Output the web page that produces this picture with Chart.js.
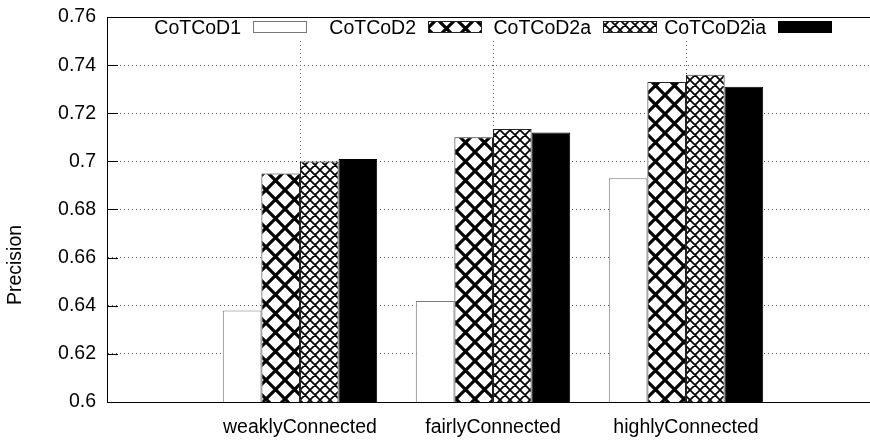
<!DOCTYPE html>
<html><head><meta charset="utf-8">
<script src="https://cdn.jsdelivr.net/npm/chart.js@4/dist/chart.umd.min.js"></script>
<style>html,body{margin:0;padding:0;background:#fff;overflow:hidden;width:870px;height:441px}canvas{display:block}</style>
</head><body>
<canvas id="c" width="880" height="441" style="width:880px;height:441px"></canvas>
<script>
// ---- data ----
const categories = ['weaklyConnected', 'fairlyConnected', 'highlyConnected'];
const seriesNames = ['CoTCoD1', 'CoTCoD2', 'CoTCoD2a', 'CoTCoD2ia'];
const cotcod1   = [0.638, 0.642, 0.693];
const cotcod2   = [0.695, 0.710, 0.733];
const cotcod2a  = [0.700, 0.7135, 0.736];
const cotcod2ia = [0.701, 0.712, 0.731];
const yTickValues = [0.6, 0.62, 0.64, 0.66, 0.68, 0.7, 0.72, 0.74, 0.76];
const yAxisTitle = 'Precision';

// ---- styling ----
const FONT = 'Liberation Sans, Arial, Helvetica, sans-serif';
const FS = 19.5;
const canvas = document.getElementById('c');
const ctx = canvas.getContext('2d');

function hatch(period, lw) {
  const t = document.createElement('canvas');
  t.width = t.height = period;
  const g = t.getContext('2d');
  g.fillStyle = '#fff';
  g.fillRect(0, 0, period, period);
  g.strokeStyle = '#000';
  g.lineWidth = lw;
  g.beginPath();
  for (let k = -1; k <= 1; k++) {
    g.moveTo(k * period, 0); g.lineTo(k * period + period, period);
    g.moveTo(k * period, period); g.lineTo(k * period + period, 0);
  }
  g.stroke();
  return ctx.createPattern(t, 'repeat');
}
const coarse = hatch(19, 3.2);
const fine = hatch(10, 1.7);

const pad = arr => [null, ...arr, null];
const seriesValues = [cotcod1, cotcod2, cotcod2a, cotcod2ia];
const fills = ['#ffffff', coarse, fine, '#000000'];
const borders = ['#777777', '#222222', '#222222', '#000000'];

const datasets = seriesNames.map((name, i) => ({
  label: name,
  data: pad(seriesValues[i]),
  backgroundColor: fills[i],
  borderColor: borders[i],
  borderWidth: 1,
  borderSkipped: 'bottom',
  categoryPercentage: 0.8,
  barPercentage: 1.0
}));

const framePlugin = {
  id: 'frame',
  afterDraw(chart) {
    const { ctx, chartArea: a, scales } = chart;
    ctx.save();
    // top border
    ctx.strokeStyle = '#000';
    ctx.lineWidth = 1;
    ctx.beginPath();
    const ty = Math.round(a.top) + 0.5;
    ctx.moveTo(a.left, ty); ctx.lineTo(a.right, ty);
    ctx.stroke();
    // inward y ticks
    scales.y.ticks.forEach(t => {
      const py = Math.round(scales.y.getPixelForValue(t.value)) + 0.5;
      ctx.beginPath();
      ctx.moveTo(a.left, py); ctx.lineTo(a.left + 11, py);
      ctx.stroke();
    });
    // legend (opaque band)
    ctx.fillStyle = '#fff';
    ctx.fillRect(a.left + 1, a.top + 1, a.right - a.left - 2, 22);
    ctx.font = FS + 'px ' + FONT;
    ctx.textAlign = 'right';
    ctx.textBaseline = 'alphabetic';
    chart.data.datasets.forEach((ds, i) => {
      const bx = a.left + 146 + 175 * i;
      const by = a.top + 4;
      ctx.fillStyle = '#000';
      ctx.fillText(ds.label, bx - 12, a.top + 17);
      ctx.fillStyle = ds.backgroundColor;
      ctx.fillRect(bx, by, 54, 12);
      ctx.strokeStyle = ds.borderColor;
      ctx.strokeRect(bx + 0.5, by + 0.5, 53, 11);
    });
    // y title
    ctx.save();
    ctx.translate(16, 265);
    ctx.rotate(-Math.PI / 2);
    ctx.textAlign = 'center';
    ctx.textBaseline = 'middle';
    ctx.fillStyle = '#000';
    ctx.fillText(yAxisTitle, 0, 0);
    ctx.restore();
    ctx.restore();
  }
};

new Chart(ctx, {
  type: 'bar',
  data: { labels: ['', ...categories, ''], datasets },
  options: {
    responsive: false,
    devicePixelRatio: 1,
    animation: false,
    layout: { padding: { top: 17, right: 1, left: 0, bottom: 0 } },
    plugins: { legend: { display: false }, tooltip: { enabled: false }, title: { display: false } },
    scales: {
      x: {
        type: 'category',
        offset: false,
        grid: { offset: false, color: '#555', lineWidth: 1, drawTicks: false },
        border: { display: true, color: '#000', width: 1, dash: [1, 3] },
        ticks: { color: '#000', font: { family: FONT, size: FS }, padding: 14, maxRotation: 0, autoSkip: false },
        afterFit: s => { s.height = 39; s.paddingLeft = 0; s.paddingRight = 0; }
      },
      y: {
        min: 0.6, max: 0.76,
        grid: { color: '#555', lineWidth: 1, drawTicks: false },
        border: { display: true, color: '#000', width: 1, dash: [1, 3] },
        ticks: { color: '#000', font: { family: FONT, size: FS }, padding: 11, callback: v => String(v) },
        afterBuildTicks: s => { s.ticks = yTickValues.map(v => ({ value: v })); },
        afterFit: s => { s.width = 107; s.paddingTop = 0; s.paddingBottom = 0; }
      }
    }
  },
  plugins: [framePlugin]
});
</script>
</body></html>
